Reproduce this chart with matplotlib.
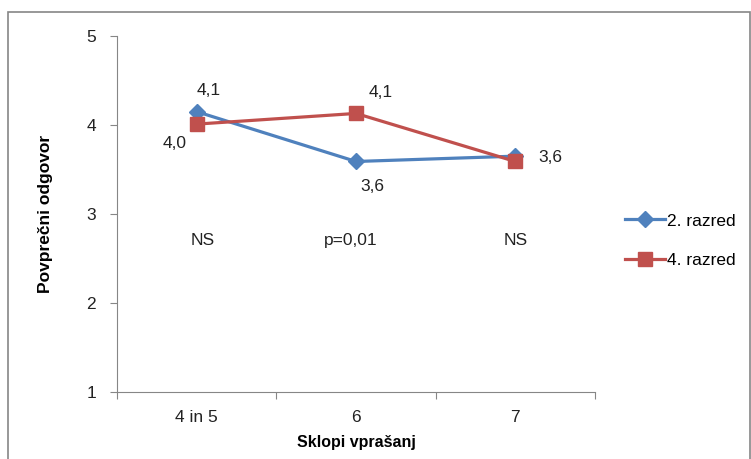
import numpy as np
import matplotlib.pyplot as plt
from matplotlib.patches import Rectangle

plt.rcParams['font.family'] = ['Liberation Sans', 'DejaVu Sans']

categories = ['4 in 5', '6', '7']
razred2 = [4.15, 3.59, 3.65]
razred4 = [4.01, 4.13, 3.59]
labels2 = ['4,1', '3,6', '']
labels4 = ['4,0', '4,1', '3,6']
sig = ['NS', 'p=0,01', 'NS']

blue = '#4F81BD'
red = '#C0504D'
gray = '#868686'
txt = '#222222'

fig = plt.figure(figsize=(7.51, 4.59), dpi=100)
fig.patches.append(Rectangle((8 / 751, -0.05), 742 / 751, 1 - 12 / 459 + 0.05,
                             transform=fig.transFigure, fill=False,
                             edgecolor=gray, lw=1.2))
ax = fig.add_axes([117 / 751, 1 - 392 / 459, 478 / 751, 356 / 459])

x = np.arange(len(categories))
ax.plot(x, razred2, color=blue, lw=2.3, marker='D', ms=8, label='2. razred')
ax.plot(x, razred4, color=red, lw=2.3, marker='s', ms=10, label='4. razred')

# data labels
off2 = [(9, 15), (12, -18), (0, 0)]
off4 = [(-16, -14), (18, 15), (25, 3)]
for xi, yi, t, o in zip(x, razred2, labels2, off2):
    if t:
        ax.annotate(t, (xi, yi), xytext=o, textcoords='offset points',
                    ha='center', va='center', fontsize=12.5, color=txt)
for xi, yi, t, o in zip(x, razred4, labels4, off4):
    ax.annotate(t, (xi, yi), xytext=o, textcoords='offset points',
                ha='center', va='center', fontsize=12.5, color=txt)

sig_dx = [0.04, -0.03, 0.0]
for xi, t, d in zip(x, sig, sig_dx):
    ax.text(xi + d, 2.7, t, ha='center', va='center', fontsize=12.5, color=txt)

ax.set_xlim(-0.5, 2.5)
ax.set_ylim(1, 5)
ax.set_yticks([1, 2, 3, 4, 5])
ax.set_xticks([-0.5, 0.5, 1.5, 2.5])
ax.set_xticklabels([])
ax.set_xticks(x, minor=True)
ax.set_xticklabels(categories, minor=True)
ax.tick_params(axis='x', which='minor', length=0, pad=13, labelsize=12.5,
               labelcolor=txt)
ax.tick_params(axis='x', which='major', length=5, color=gray)
ax.tick_params(axis='y', length=5, color=gray, labelsize=12.5, pad=10,
               labelcolor=txt)
for s in ['top', 'right']:
    ax.spines[s].set_visible(False)
for s in ['left', 'bottom']:
    ax.spines[s].set_color(gray)

ax.set_xlabel('Sklopi vprašanj', fontsize=11.5, fontweight='bold', labelpad=7)
ax.set_ylabel('Povprečni odgovor', fontsize=12.5, fontweight='bold', labelpad=24)

ax.legend(loc='center left', bbox_to_anchor=(1.03, 0.425), frameon=False,
          fontsize=12.5, handlelength=2.3, handletextpad=0.1, labelspacing=1.4)

fig.savefig('out.png', dpi=100)
